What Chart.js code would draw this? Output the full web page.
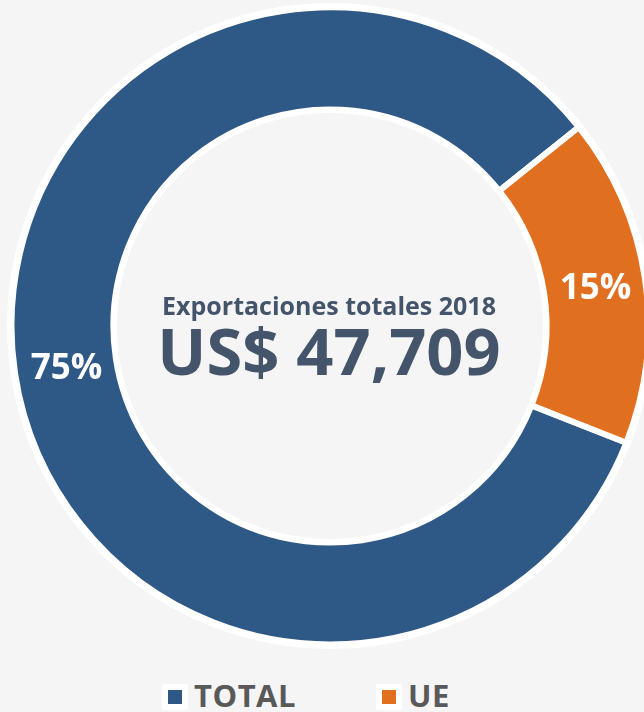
<!DOCTYPE html>
<html lang="es">
<head>
<meta charset="utf-8">
<title>Exportaciones totales 2018</title>
<script src="https://cdn.jsdelivr.net/npm/chart.js@4"></script>
<style>
    html, body {
        margin: 0;
        padding: 0;
        width: 644px;
        height: 712px;
        overflow: hidden;
        background: #f5f5f5;
        font-family: 'Open Sans', 'DejaVu Sans', sans-serif;
    }
    #chartWrap {
        position: absolute;
        left: 0;
        top: 0;
        width: 664px;
        height: 660px;
    }
    #legend {
        position: absolute;
        left: 162px;
        top: 684px;
        display: flex;
    }
    .legend-item {
        display: flex;
        align-items: flex-start;
        width: 214px;
    }
    .legend-box {
        width: 14px;
        height: 14px;
        border: 6px solid #ffffff;
        border-radius: 2px;
        margin-right: 6px;
    }
    .legend-text {
        font-size: 31px;
        font-weight: 700;
        line-height: 27px;
        letter-spacing: 0.5px;
        color: #595959;
        position: relative;
        top: -2px;
    }
</style>
</head>
<body>
<div id="chartWrap"><canvas id="exportChart" width="664" height="660"></canvas></div>
<div id="legend"></div>
<script>
    // Chart data
    const categories = ['TOTAL', 'UE'];
    const shares = [83.3, 16.7];          // slice sizes as drawn on the ring
    const shareLabels = ['75%', '15%'];   // labels printed on the slices
    const colors = ['#2E5886', '#E06F1F'];
    const centerTitle = 'Exportaciones totales 2018';
    const centerValue = 'US$ 47,709';

    const FONT = "'Open Sans', 'DejaVu Sans', sans-serif";

    // White rings on the outer and inner edge of the donut
    const ringPlugin = {
        id: 'ring',
        beforeDatasetsDraw(chart) {
            const arc = chart.getDatasetMeta(0).data[0];
            if (!arc) return;
            const ctx = chart.ctx;
            ctx.save();
            ctx.strokeStyle = '#ffffff';
            ctx.lineWidth = 9;
            ctx.beginPath();
            ctx.arc(arc.x, arc.y, arc.outerRadius, 0, Math.PI * 2);
            ctx.stroke();
            ctx.lineWidth = 7;
            ctx.beginPath();
            ctx.arc(arc.x, arc.y, arc.innerRadius, 0, Math.PI * 2);
            ctx.stroke();
            ctx.restore();
        }
    };

    // Percent labels on the slices + the big text in the hole
    const labelPlugin = {
        id: 'labels',
        afterDatasetsDraw(chart) {
            const ctx = chart.ctx;
            const meta = chart.getDatasetMeta(0);
            ctx.save();
            ctx.textAlign = 'center';
            ctx.textBaseline = 'middle';
            ctx.fillStyle = '#ffffff';
            ctx.font = `bold 35px ${FONT}`;
            meta.data.forEach((arc, i) => {
                const pos = arc.tooltipPosition();
                ctx.fillText(shareLabels[i], pos.x + 1, pos.y + 3);
            });

            const cx = meta.data[0].x;
            const cy = meta.data[0].y;
            ctx.fillStyle = '#44546A';
            ctx.textBaseline = 'alphabetic';
            ctx.font = `bold 25px ${FONT}`;
            ctx.fillText(centerTitle, cx - 1, cy - 11);
            ctx.font = `bold 65px ${FONT}`;
            ctx.fillText(centerValue, cx - 1, cy + 49);
            ctx.restore();
        }
    };

    new Chart(document.getElementById('exportChart'), {
        type: 'doughnut',
        data: {
            labels: categories,
            datasets: [{
                data: shares,
                backgroundColor: colors,
                borderColor: '#ffffff',
                borderWidth: 6
            }]
        },
        options: {
            responsive: false,
            animation: false,
            devicePixelRatio: 1,
            events: [],
            rotation: 111.5,
            cutout: '68%',
            layout: { padding: { left: 8.5, right: 12.5, top: 4.5, bottom: 12.5 } },
            plugins: {
                legend: { display: false },
                tooltip: { enabled: false }
            }
        },
        plugins: [ringPlugin, labelPlugin]
    });

    // Legend below the chart
    const legend = document.getElementById('legend');
    categories.forEach((name, i) => {
        const item = document.createElement('div');
        item.className = 'legend-item';
        item.innerHTML = `<span class="legend-box" style="background:${colors[i]}"></span><span class="legend-text">${name}</span>`;
        legend.appendChild(item);
    });
</script>
</body>
</html>
